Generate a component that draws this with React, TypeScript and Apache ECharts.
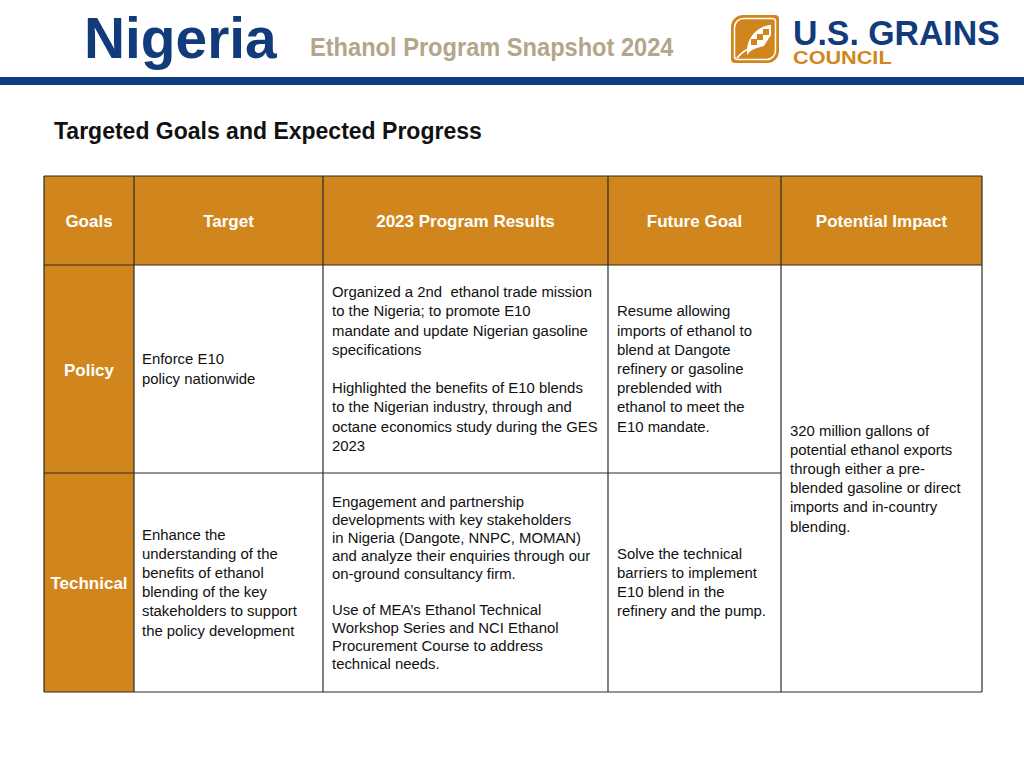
import React, { useEffect, useRef } from "react";
import * as echarts from "echarts";

const headers = ["Goals", "Target", "2023 Program Results", "Future Goal", "Potential Impact"];
const goals = ["Policy", "Technical"];
const targets = [
  ["Enforce E10", "policy nationwide"],
  ["Enhance the", "understanding of the", "benefits of ethanol", "blending of the key", "stakeholders to support", "the policy development"],
];
const results = [
  [
    "Organized a 2nd  ethanol trade mission",
    "to the Nigeria; to promote E10",
    "mandate and update Nigerian gasoline",
    "specifications",
    "",
    "Highlighted the benefits of E10 blends",
    "to the Nigerian industry, through and",
    "octane economics study during the GES",
    "2023",
  ],
  [
    "Engagement and partnership",
    "developments with key stakeholders",
    "in Nigeria (Dangote, NNPC, MOMAN)",
    "and analyze their enquiries through our",
    "on-ground consultancy firm.",
    "",
    "Use of MEA\u2019s Ethanol Technical",
    "Workshop Series and NCI Ethanol",
    "Procurement Course to address",
    "technical needs.",
  ],
];
const futureGoals = [
  [
    "Resume allowing",
    "imports of ethanol to",
    "blend at Dangote",
    "refinery or gasoline",
    "preblended with",
    "ethanol to meet the",
    "E10 mandate.",
  ],
  ["Solve the technical", "barriers to implement", "E10 blend in the", "refinery and the pump."],
];
const impact = [
  "320 million gallons of",
  "potential ethanol exports",
  "through either a pre-",
  "blended gasoline or direct",
  "imports and in-country",
  "blending.",
];
const pageTitle = "Nigeria";
const pageSubtitle = "Ethanol Program Snapshot 2024";
const sectionTitle = "Targeted Goals and Expected Progress";

const ORANGE = "#d0861c";
const BLUE = "#123b7b";
const TAN = "#b3a68a";
const LINE = "#2a2a2a";
const FONT = "'Liberation Sans', Arial, Helvetica, sans-serif";
const BODY = 14.9;

const colX = [44, 134, 323, 608, 781, 982];
const rowY = [176, 265, 473, 692];

echarts.graphic.registerShape(
  "logoBlob",
  echarts.graphic.extendPath(
    "M 16 36 C 16 24 24 13 38 10 L 40 10 L 40 20 C 37 24 35 28 33 31 L 26 33 C 22 34 19 36 16 40 Z",
    {}
  )
);

function txt(x: number, y: number, lines: string[] | string, opts: any = {}) {
  const text = Array.isArray(lines) ? lines.join("\n") : lines;
  const align = opts.align || "left";
  return {
    type: "text",
    x,
    y,
    scaleX: opts.scaleX || 1,
    scaleY: 1,
    z: 10,
    style: {
      text,
      fill: opts.fill || "#111",
      fontFamily: opts.fontFamily || FONT,
      fontSize: opts.fontSize || BODY,
      fontWeight: opts.fontWeight || "normal",
      lineHeight: opts.lineHeight || 19.2,
      align,
      textAlign: align,
      verticalAlign: opts.va || "middle",
      textVerticalAlign: opts.va || "middle",
    },
  };
}

export default function App() {
  const ref = useRef<HTMLDivElement>(null);
  useEffect(() => {
    if (!ref.current) return;
    const chart = echarts.init(ref.current, null, { renderer: "svg" });
    const els: any[] = [];

    // header
    els.push(txt(84, 38, pageTitle, { fontSize: 58, fontWeight: "bold", fill: BLUE, scaleX: 0.98 }));
    els.push(txt(310, 47, pageSubtitle, { fontSize: 25, fontWeight: "bold", fill: TAN, scaleX: 0.945 }));
    // logo
    const LX = 731;
    const LY = 15;
    els.push({ type: "rect", shape: { x: LX, y: LY, width: 48, height: 48, r: [12, 4, 12, 4] }, style: { fill: ORANGE } });
    els.push({
      type: "rect",
      shape: { x: LX + 3.5, y: LY + 3.5, width: 41, height: 41, r: [9, 3, 9, 3] },
      style: { fill: "none", stroke: "#fff", lineWidth: 1.5 },
    });
    els.push({ type: "logoBlob", x: LX, y: LY, style: { fill: "#fff" } });
    [[20, 24], [26, 19], [32, 14]].forEach(([dx, dy]) =>
      els.push({ type: "rect", shape: { x: LX + dx, y: LY + dy, width: 6, height: 6 }, style: { fill: ORANGE } })
    );
    els.push({
      type: "bezierCurve",
      shape: { x1: LX + 6, y1: LY + 43, x2: LX + 22, y2: LY + 32, cpx1: LX + 10, cpy1: LY + 38, cpx2: LX + 16, cpy2: LY + 34 },
      style: { stroke: "#fff", lineWidth: 1.8, fill: "none" },
    });
    els.push(txt(793, 32, "U.S. GRAINS", { fontSize: 36, fontWeight: "bold", fill: BLUE, scaleX: 0.94 }));
    els.push(txt(793, 57, "COUNCIL", { fontSize: 19, fontWeight: "bold", fill: ORANGE, scaleX: 1.14 }));
    els.push({ type: "rect", shape: { x: 0, y: 77, width: 1024, height: 8 }, style: { fill: "#0f3c7c" } });

    els.push(txt(54, 131, sectionTitle, { fontSize: 23, fontWeight: "bold", fill: "#111" }));

    // table fills
    els.push({
      type: "rect",
      shape: { x: colX[0], y: rowY[0], width: colX[5] - colX[0], height: rowY[1] - rowY[0] },
      style: { fill: ORANGE },
    });
    els.push({
      type: "rect",
      shape: { x: colX[0], y: rowY[1], width: colX[1] - colX[0], height: rowY[3] - rowY[1] },
      style: { fill: ORANGE },
    });
    // grid lines
    const L = (x1: number, y1: number, x2: number, y2: number) =>
      els.push({ type: "line", z: 5, shape: { x1, y1, x2, y2 }, style: { stroke: LINE, lineWidth: 1.2 } });
    colX.forEach((x) => L(x, rowY[0], x, rowY[3]));
    L(colX[0], rowY[0], colX[5], rowY[0]);
    L(colX[0], rowY[1], colX[5], rowY[1]);
    L(colX[0], rowY[2], colX[4], rowY[2]);
    L(colX[0], rowY[3], colX[5], rowY[3]);

    // header texts
    headers.forEach((h, i) => {
      els.push(
        txt((colX[i] + colX[i + 1]) / 2, (rowY[0] + rowY[1]) / 2 + 1, h, {
          fontSize: 17,
          fontWeight: "bold",
          fill: "#fff",
          align: "center",
        })
      );
    });
    // rows
    goals.forEach((g, r) => {
      const cy = (rowY[r + 1] + rowY[r + 2]) / 2;
      els.push(txt((colX[0] + colX[1]) / 2, cy + 1, g, { fontSize: 17, fontWeight: "bold", fill: "#fff", align: "center" }));
      els.push(txt(colX[1] + 8, cy, targets[r], { lineHeight: 19.2 }));
      els.push(txt(colX[2] + 9, cy, results[r], { lineHeight: r === 0 ? 19.2 : 18 }));
      els.push(txt(colX[3] + 9, cy, futureGoals[r], { lineHeight: 19.2 }));
    });
    els.push(txt(colX[4] + 9, (rowY[1] + rowY[3]) / 2, impact, { lineHeight: 19.2 }));

    chart.setOption({
      animation: false,
      backgroundColor: "#ffffff",
      graphic: { elements: els },
    });
    return () => chart.dispose();
  }, []);
  return <div ref={ref} style={{ position: "absolute", left: 0, top: 0, width: 1024, height: 768 }} />;
}
